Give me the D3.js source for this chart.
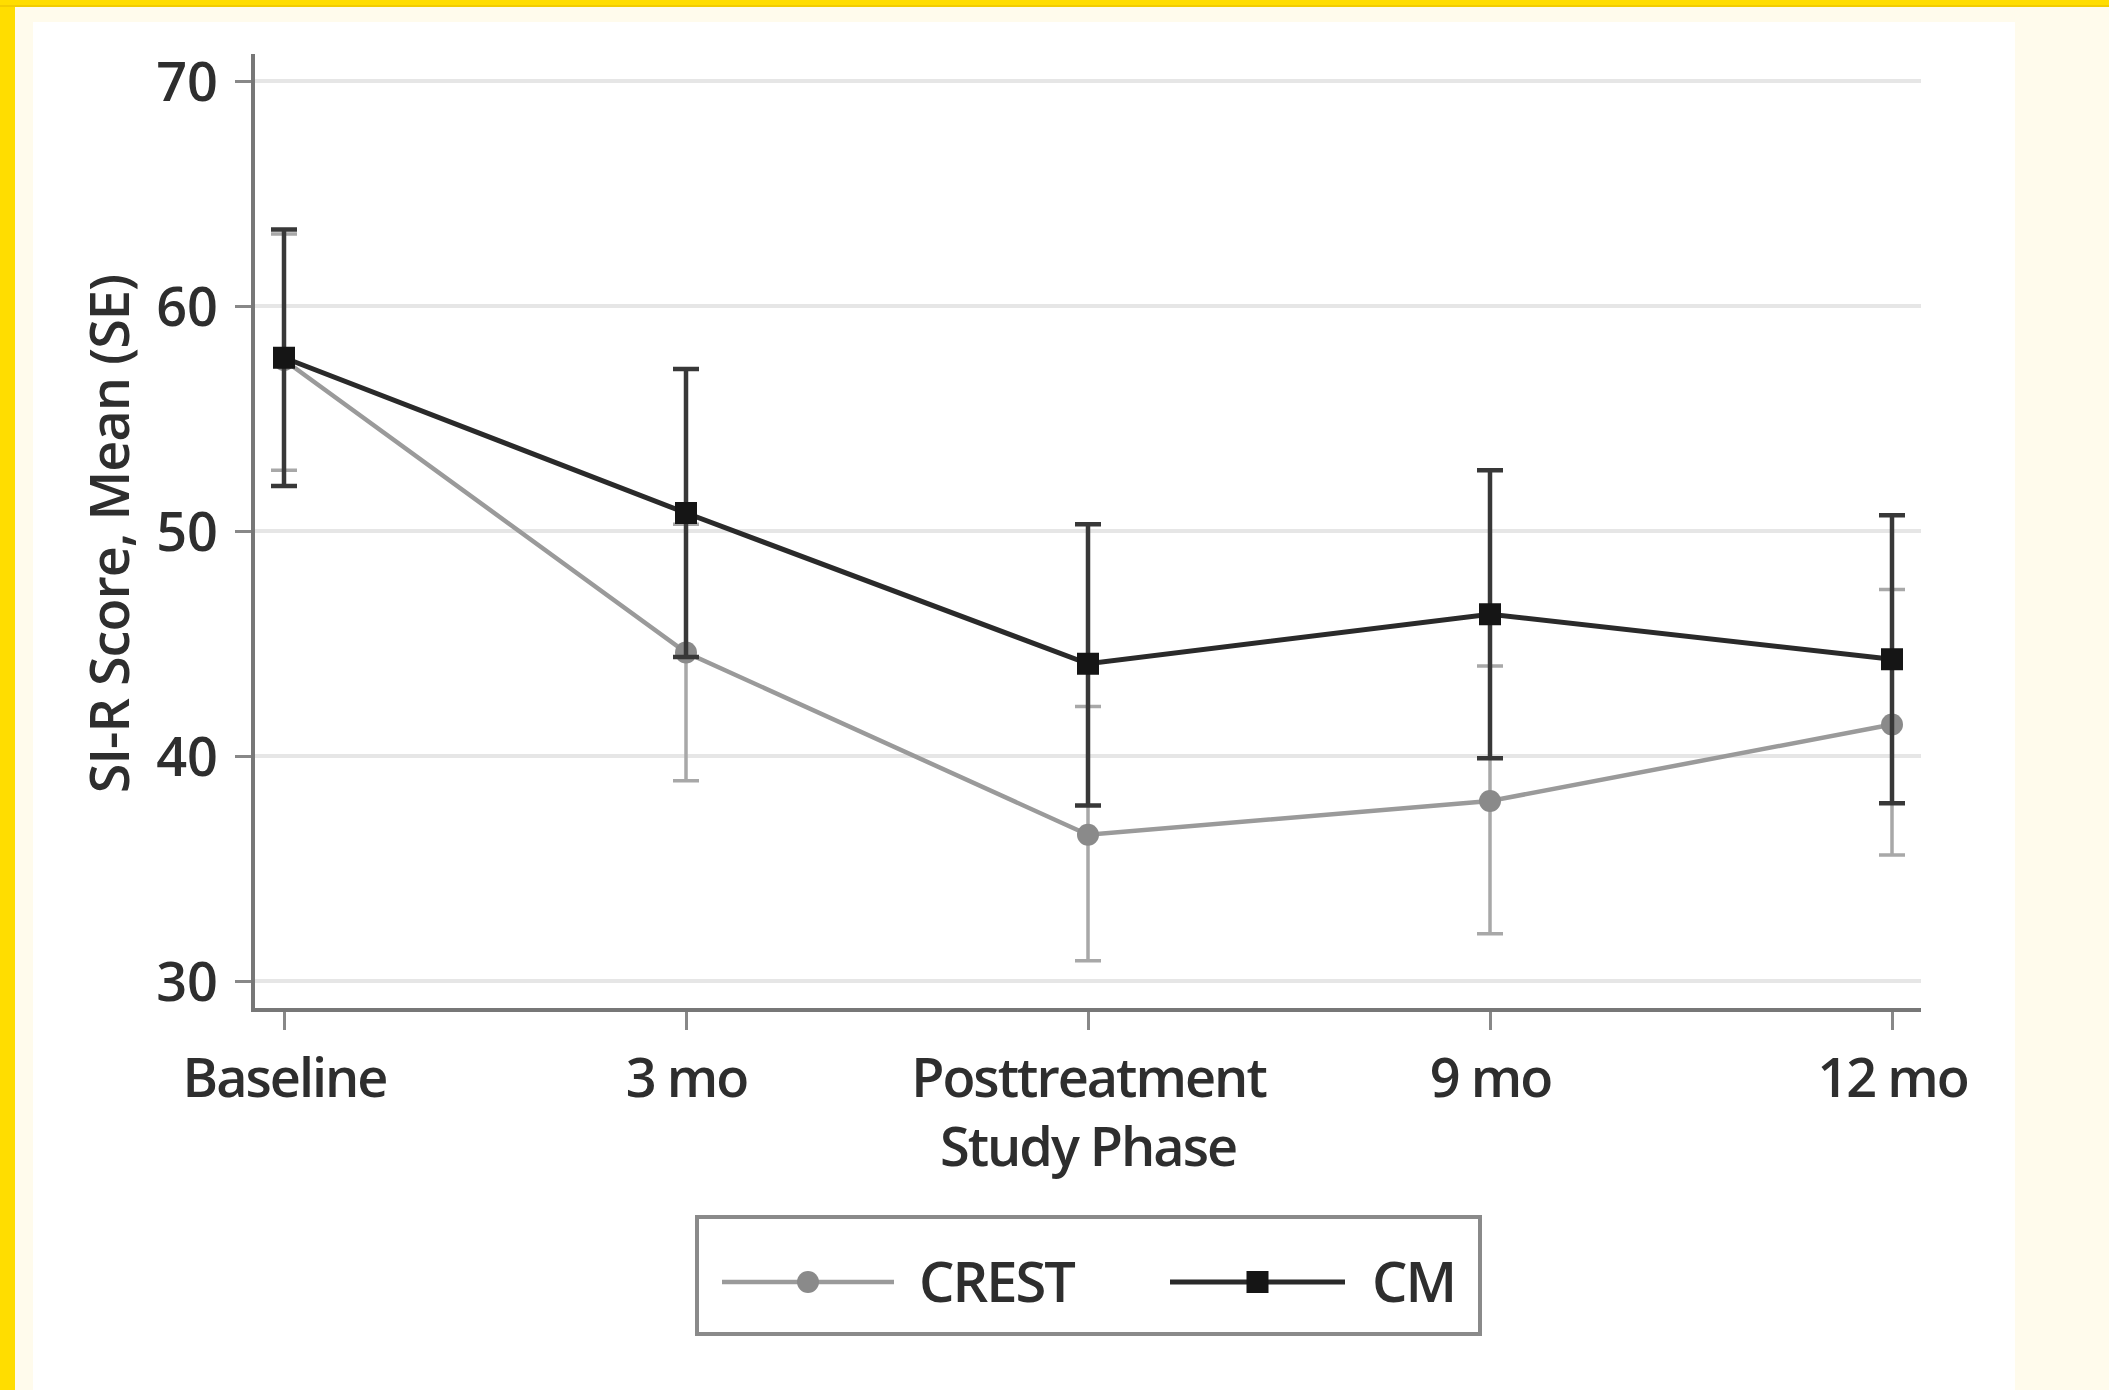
<!DOCTYPE html>
<html>
<head>
<meta charset="utf-8">
<script src="https://cdn.jsdelivr.net/npm/d3@7"></script>
<style>
  html, body { margin: 0; padding: 0; background: #ffdd00; }
  #chart { position: absolute; left: 0; top: 0; }
  text { font-family: "Open Sans", "Noto Sans", sans-serif; fill: #2e2e2e; font-weight: 600; }
</style>
</head>
<body>
<div id="chart"></div>
<script>
const phases = ["Baseline", "3 mo", "Posttreatment", "9 mo", "12 mo"];
const yTicks = [30, 40, 50, 60, 70];

const crestMean = [57.6, 44.6, 36.5, 38.0, 41.4];
const crestLow  = [52.7, 38.9, 30.9, 32.1, 35.6];
const crestHigh = [63.2, 50.3, 42.2, 44.0, 47.4];

const cmMean = [57.7, 50.8, 44.1, 46.3, 44.3];
const cmLow  = [52.0, 44.4, 37.8, 39.9, 37.9];
const cmHigh = [63.4, 57.2, 50.3, 52.7, 50.7];

const W = 2109, H = 1390;
const plot = {left: 253, right: 1921, top: 54, bottom: 1010};

const svg = d3.select("#chart").append("svg")
    .attr("width", W)
    .attr("height", H);

// page background: yellow frame, cream margin, white panel
svg.append("rect").attr("width", W).attr("height", H).attr("fill", "#ffdd00");
svg.append("rect").attr("x", 0).attr("y", 5).attr("width", W).attr("height", 2).attr("fill", "#f2cc00");
svg.append("rect").attr("x", 15).attr("y", 7).attr("width", W - 15).attr("height", H - 7).attr("fill", "#fffbec");
svg.append("rect").attr("x", 33).attr("y", 22).attr("width", 2015 - 33).attr("height", H - 22).attr("fill", "#ffffff");

const x = d3.scalePoint()
    .domain(phases)
    .range([284, 1892]);

const y = d3.scaleLinear()
    .domain([30, 70])
    .range([981, 81]);

// gridlines
svg.append("g")
    .selectAll("line")
    .data(yTicks)
    .join("line")
        .attr("x1", plot.left)
        .attr("x2", plot.right)
        .attr("y1", d => y(d))
        .attr("y2", d => y(d))
        .attr("stroke", "#e6e6e6")
        .attr("stroke-width", 4);

// y axis
svg.append("g")
    .attr("transform", `translate(${plot.left},0)`)
    .call(d3.axisLeft(y).tickValues(yTicks).tickSize(18).tickPadding(17))
    .call(g => g.select(".domain").remove())
    .call(g => g.selectAll(".tick line").attr("stroke", "#888").attr("stroke-width", 3))
    .call(g => g.selectAll(".tick text").attr("font-size", 54).attr("fill", "#2e2e2e")
        .style("font-family", "'Open Sans', sans-serif").attr("dy", "0.36em"));

// x axis
svg.append("g")
    .attr("transform", `translate(0,${plot.bottom})`)
    .call(d3.axisBottom(x).tickSize(20).tickPadding(29))
    .call(g => g.select(".domain").remove())
    .call(g => g.selectAll(".tick line").attr("stroke", "#888").attr("stroke-width", 3))
    .call(g => g.selectAll(".tick text").attr("font-size", 54).attr("fill", "#2e2e2e")
        .style("font-family", "'Open Sans', sans-serif").attr("letter-spacing", -2));

// axis lines
svg.append("path")
    .attr("d", `M${plot.left},${plot.top}V${plot.bottom}H${plot.right}`)
    .attr("fill", "none")
    .attr("stroke", "#777")
    .attr("stroke-width", 4);

// axis titles
svg.append("text")
    .attr("transform", "translate(110,534) rotate(-90)")
    .attr("text-anchor", "middle")
    .attr("font-size", 54)
    .attr("letter-spacing", -1)
    .attr("dy", "0.35em")
    .text("SI-R Score, Mean (SE)");

svg.append("text")
    .attr("x", x("Posttreatment"))
    .attr("y", 1166)
    .attr("text-anchor", "middle")
    .attr("font-size", 54)
    .attr("letter-spacing", -2)
    .text("Study Phase");

// series
const series = [
    {name: "CREST", mean: crestMean, low: crestLow, high: crestHigh,
     line: "#9a9a9a", err: "#a8a8a8", mark: "#8a8a8a", shape: "circle"},
    {name: "CM", mean: cmMean, low: cmLow, high: cmHigh,
     line: "#2a2a2a", err: "#383838", mark: "#151515", shape: "square"}
];

const capW = 13;

series.forEach(s => {
    const pts = phases.map((p, i) => ({p, m: s.mean[i], lo: s.low[i], hi: s.high[i]}));
    const g = svg.append("g").attr("class", "series-" + s.name);

    // error bars
    g.selectAll(".err")
        .data(pts)
        .join("path")
            .attr("class", "err")
            .attr("d", d => `M${x(d.p)},${y(d.lo)}V${y(d.hi)}` +
                `M${x(d.p) - capW},${y(d.lo)}H${x(d.p) + capW}` +
                `M${x(d.p) - capW},${y(d.hi)}H${x(d.p) + capW}`)
            .attr("fill", "none")
            .attr("stroke", s.err)
            .attr("stroke-width", s.shape === "square" ? 4.5 : 3.5);

    // connecting line
    g.append("path")
        .attr("d", d3.line().x(d => x(d.p)).y(d => y(d.m))(pts))
        .attr("fill", "none")
        .attr("stroke", s.line)
        .attr("stroke-width", s.shape === "square" ? 5 : 4.5);

    // markers
    if (s.shape === "circle") {
        g.selectAll(".mk")
            .data(pts)
            .join("circle")
                .attr("class", "mk")
                .attr("cx", d => x(d.p))
                .attr("cy", d => y(d.m))
                .attr("r", 11)
                .attr("fill", s.mark);
    } else {
        g.selectAll(".mk")
            .data(pts)
            .join("rect")
                .attr("class", "mk")
                .attr("x", d => x(d.p) - 11)
                .attr("y", d => y(d.m) - 11)
                .attr("width", 22)
                .attr("height", 22)
                .attr("fill", s.mark);
    }
});

// legend
const lg = svg.append("g").attr("transform", "translate(697,1217)");
lg.append("rect")
    .attr("width", 783)
    .attr("height", 117)
    .attr("fill", "#fff")
    .attr("stroke", "#8a8a8a")
    .attr("stroke-width", 4);

const legendItems = [
    {s: series[0], x0: 25, x1: 197, tx: 222},
    {s: series[1], x0: 473, x1: 648, tx: 675}
];
legendItems.forEach(it => {
    const cy = 65;
    lg.append("line")
        .attr("x1", it.x0).attr("x2", it.x1)
        .attr("y1", cy).attr("y2", cy)
        .attr("stroke", it.s.line)
        .attr("stroke-width", it.s.shape === "square" ? 5 : 4.5);
    const cx = (it.x0 + it.x1) / 2;
    if (it.s.shape === "circle") {
        lg.append("circle").attr("cx", cx).attr("cy", cy).attr("r", 11).attr("fill", it.s.mark);
    } else {
        lg.append("rect").attr("x", cx - 11).attr("y", cy - 11).attr("width", 22).attr("height", 22).attr("fill", it.s.mark);
    }
    lg.append("text")
        .attr("x", it.tx)
        .attr("y", cy)
        .attr("dy", "0.36em")
        .attr("font-size", 56)
        .attr("letter-spacing", -2)
        .text(it.s.name);
});
</script>
</body>
</html>
